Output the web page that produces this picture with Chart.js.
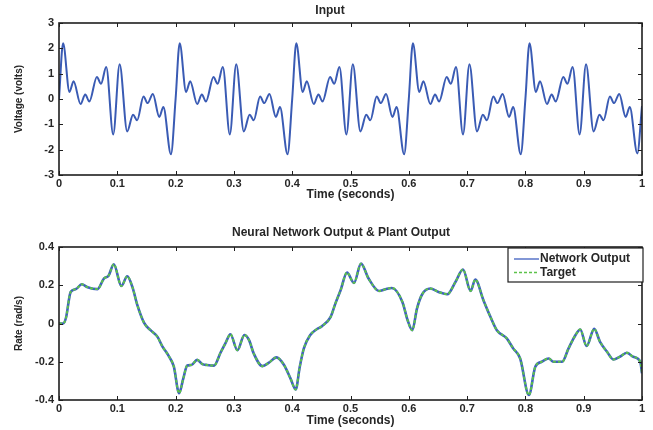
<!DOCTYPE html>
<html>
<head>
<meta charset="utf-8">
<script src="https://cdn.jsdelivr.net/npm/chart.js@4.4.0/dist/chart.umd.min.js"></script>
<style>
body{margin:0;background:#fff;}
#wrap{position:relative;width:653px;height:430px;background:#fff;overflow:hidden;}
#c1{position:absolute;left:0;top:0;}
#c2{position:absolute;left:0;top:215px;}
.ttl{position:absolute;left:0;height:14px;line-height:14px;text-align:center;white-space:nowrap;
     font:bold 12px "Liberation Sans", Arial, sans-serif;color:#262626;}
#t1{top:3px;width:660px;}
#t2{top:225px;width:682px;}
</style>
</head>
<body>
<div id="wrap">
<canvas id="c1" width="653" height="205"></canvas>
<canvas id="c2" width="653" height="215"></canvas>
<div class="ttl" id="t1">Input</div>
<div class="ttl" id="t2">Neural Network Output &amp; Plant Output</div>
</div>
<script>
// input signal
var inputTime = [
 0, 0.007, 0.018, 0.025, 0.037, 0.045, 0.052, 0.065, 0.072, 0.081, 0.093, 0.104, 0.117, 0.127, 0.134, 0.145, 0.152, 0.161, 0.172, 0.179, 0.192,
 0.2, 0.207, 0.218, 0.225, 0.237, 0.245, 0.252, 0.265, 0.272, 0.281, 0.293, 0.304, 0.317, 0.327, 0.334, 0.345, 0.352, 0.361, 0.372, 0.379, 0.392,
 0.4, 0.407, 0.418, 0.425, 0.437, 0.445, 0.452, 0.465, 0.472, 0.481, 0.493, 0.504, 0.517, 0.527, 0.534, 0.545, 0.552, 0.561, 0.572, 0.579, 0.592,
 0.6, 0.607, 0.618, 0.625, 0.637, 0.645, 0.652, 0.665, 0.672, 0.681, 0.693, 0.704, 0.717, 0.727, 0.734, 0.745, 0.752, 0.761, 0.772, 0.779, 0.792,
 0.8, 0.807, 0.818, 0.825, 0.837, 0.845, 0.852, 0.865, 0.872, 0.881, 0.893, 0.904, 0.917, 0.927, 0.934, 0.945, 0.952, 0.961, 0.972, 0.979, 0.992,
 1.0
];
var inputVolts = [
 0, 2.2, 0.28, 0.7, -0.2, 0.18, -0.1, 0.87, 0.6, 1.26, -1.4, 1.37, -1.28, -0.62, -0.84, 0.1, -0.16, 0.2, -0.71, -0.32, -2.18,
 0, 2.2, 0.28, 0.7, -0.2, 0.18, -0.1, 0.87, 0.6, 1.26, -1.4, 1.37, -1.28, -0.62, -0.84, 0.1, -0.16, 0.2, -0.71, -0.32, -2.18,
 0, 2.2, 0.28, 0.7, -0.2, 0.18, -0.1, 0.87, 0.6, 1.26, -1.4, 1.37, -1.28, -0.62, -0.84, 0.1, -0.16, 0.2, -0.71, -0.32, -2.18,
 0, 2.2, 0.28, 0.7, -0.2, 0.18, -0.1, 0.87, 0.6, 1.26, -1.4, 1.37, -1.28, -0.62, -0.84, 0.1, -0.16, 0.2, -0.71, -0.32, -2.18,
 0, 2.2, 0.28, 0.7, -0.2, 0.18, -0.1, 0.87, 0.6, 1.26, -1.4, 1.37, -1.28, -0.62, -0.84, 0.1, -0.16, 0.2, -0.71, -0.32, -2.15,
 -0.28
];

// network output / plant output (bottom plot)
var rateTime = [
 0, 0.007, 0.012, 0.02, 0.029, 0.039, 0.049, 0.066, 0.077, 0.085, 0.094, 0.107, 0.117, 0.126, 0.134, 0.146, 0.157, 0.169, 0.177, 0.189,
 0.197, 0.206, 0.213, 0.22, 0.227, 0.237, 0.246, 0.254, 0.266, 0.277, 0.286, 0.294, 0.306, 0.318, 0.326, 0.334, 0.349, 0.36, 0.373, 0.386,
 0.397, 0.406, 0.413, 0.42, 0.431, 0.442, 0.451, 0.466, 0.474, 0.483, 0.494, 0.506, 0.518, 0.531, 0.549, 0.56, 0.571, 0.589, 0.598, 0.606,
 0.614, 0.623, 0.637, 0.651, 0.666, 0.68, 0.693, 0.706, 0.714, 0.728, 0.74, 0.751, 0.768, 0.779, 0.791, 0.806, 0.817, 0.828, 0.84, 0.848,
 0.863, 0.874, 0.886, 0.894, 0.905, 0.918, 0.928, 0.94, 0.951, 0.962, 0.974, 0.985, 0.997, 1.0
];
var networkRate = [
 0, 0, 0.03, 0.165, 0.18, 0.205, 0.19, 0.18, 0.235, 0.25, 0.31, 0.196, 0.247, 0.19, 0.1, 0.003, -0.035, -0.07, -0.118, -0.174,
 -0.226, -0.365, -0.29, -0.22, -0.217, -0.19, -0.212, -0.217, -0.22, -0.153, -0.1, -0.056, -0.14, -0.06, -0.087, -0.157, -0.223, -0.205, -0.177, -0.217,
 -0.287, -0.345, -0.226, -0.13, -0.06, -0.03, -0.014, 0.035, 0.104, 0.174, 0.266, 0.212, 0.313, 0.235, 0.17, 0.179, 0.186, 0.113, 0.017, -0.035,
 0.078, 0.153, 0.183, 0.165, 0.153, 0.217, 0.282, 0.17, 0.23, 0.122, 0.035, -0.035, -0.078, -0.13, -0.183, -0.374, -0.226, -0.2, -0.183, -0.2,
 -0.2, -0.13, -0.06, -0.031, -0.118, -0.028, -0.096, -0.148, -0.188, -0.174, -0.153, -0.174, -0.2, -0.26
];
var targetRate = [
 0, 0, 0.03, 0.165, 0.18, 0.205, 0.19, 0.18, 0.235, 0.25, 0.31, 0.196, 0.247, 0.19, 0.1, 0.003, -0.035, -0.07, -0.118, -0.174,
 -0.226, -0.365, -0.29, -0.22, -0.217, -0.19, -0.212, -0.217, -0.22, -0.153, -0.1, -0.056, -0.14, -0.06, -0.087, -0.157, -0.223, -0.205, -0.177, -0.217,
 -0.287, -0.345, -0.226, -0.13, -0.06, -0.03, -0.014, 0.035, 0.104, 0.174, 0.266, 0.212, 0.313, 0.235, 0.17, 0.179, 0.186, 0.113, 0.017, -0.035,
 0.078, 0.153, 0.183, 0.165, 0.153, 0.217, 0.282, 0.17, 0.23, 0.122, 0.035, -0.035, -0.078, -0.13, -0.183, -0.374, -0.226, -0.2, -0.183, -0.2,
 -0.2, -0.13, -0.06, -0.031, -0.118, -0.028, -0.096, -0.148, -0.188, -0.174, -0.153, -0.174, -0.2, -0.26
];

var timeTicks = [0, 0.1, 0.2, 0.3, 0.4, 0.5, 0.6, 0.7, 0.8, 0.9, 1];
var voltTicks = [-3, -2, -1, 0, 1, 2, 3];
var rateTicks = [-0.4, -0.2, 0, 0.2, 0.4];

var TXT = '#262626';
var FONT = '"Liberation Sans", Arial, sans-serif';

function pts(xs, ys){
  var out = [];
  for (var i = 0; i < xs.length; i++) out.push({x: xs[i], y: ys[i]});
  return out;
}

function fmt(v){
  var r = Math.round(v * 10) / 10;
  return String(r);
}

// matlab style box + inward ticks on all four sides
var boxPlugin = {
  id: 'matlabBox',
  afterDraw: function(chart){
    var ctx = chart.ctx, a = chart.chartArea;
    var xs = chart.scales.x, ys = chart.scales.y;
    ctx.save();
    ctx.strokeStyle = '#1e1e1e';
    ctx.lineWidth = 1;
    ctx.beginPath();
    xs.ticks.forEach(function(t){
      var px = Math.round(xs.getPixelForValue(t.value)) + 0.5;
      ctx.moveTo(px, a.bottom); ctx.lineTo(px, a.bottom - 4);
      ctx.moveTo(px, a.top); ctx.lineTo(px, a.top + 4);
    });
    ys.ticks.forEach(function(t){
      var py = Math.round(ys.getPixelForValue(t.value)) + 0.5;
      ctx.moveTo(a.left, py); ctx.lineTo(a.left + 4, py);
      ctx.moveTo(a.right, py); ctx.lineTo(a.right - 4, py);
    });
    ctx.stroke();
    ctx.lineWidth = 1.6;
    ctx.strokeRect(a.left, a.top, a.right - a.left, a.bottom - a.top);
    ctx.restore();
  }
};

// boxed legend in the top right corner of the lower plot
var legendBox = {
  id: 'legendBox',
  afterDraw: function(chart){
    if (!chart.options.plugins.legendBox || !chart.options.plugins.legendBox.show) return;
    var ctx = chart.ctx, a = chart.chartArea;
    var w = 135, h = 34;
    var x0 = a.right - w + 1, y0 = a.top + 1;
    ctx.save();
    ctx.fillStyle = '#fff';
    ctx.fillRect(x0, y0, w, h);
    ctx.strokeStyle = '#1e1e1e';
    ctx.lineWidth = 1.2;
    ctx.strokeRect(x0, y0, w, h);
    ctx.font = 'bold 12px ' + FONT;
    ctx.textBaseline = 'middle';
    ctx.fillStyle = TXT;
    chart.data.datasets.forEach(function(ds, i){
      var y = y0 + 11 + i * 13.5;
      ctx.strokeStyle = ds.borderColor;
      ctx.lineWidth = 1.3;
      ctx.setLineDash(ds.borderDash || []);
      ctx.beginPath();
      ctx.moveTo(x0 + 6, y); ctx.lineTo(x0 + 31, y);
      ctx.stroke();
      ctx.setLineDash([]);
      ctx.fillText(ds.label, x0 + 32, y);
    });
    ctx.restore();
  }
};

function xScale(titlePadBottom){
  return {
    type: 'linear', min: 0, max: 1,
    afterBuildTicks: function(s){ s.ticks = timeTicks.map(function(v){ return {value: v}; }); },
    afterFit: function(s){ s.height = 30; },
    ticks: {color: TXT, font: {family: FONT, size: 11, weight: 'bold'}, padding: 2, maxRotation: 0,
            autoSkip: false, callback: function(v){ return fmt(v); }},
    grid: {display: false, drawTicks: false},
    border: {display: false},
    title: {display: true, text: 'Time (seconds)', color: TXT,
            font: {family: FONT, size: 12, weight: 'bold'}, padding: {top: 0, bottom: titlePadBottom}}
  };
}

function yScale(label, min, max, tickList){
  return {
    min: min, max: max,
    afterBuildTicks: function(s){ s.ticks = tickList.map(function(v){ return {value: v}; }); },
    afterFit: function(s){ s.width = 59; },
    ticks: {color: TXT, font: {family: FONT, size: 11, weight: 'bold'}, padding: 5,
            autoSkip: false, callback: function(v){ return fmt(v); }},
    grid: {display: false, drawTicks: false},
    border: {display: false},
    title: {display: true, text: label, color: TXT,
            font: {family: FONT, size: 10, weight: 'bold'}, padding: {top: 13, bottom: 0}}
  };
}

new Chart(document.getElementById('c1'), {
  type: 'line',
  data: {
    datasets: [{
      label: 'Input',
      data: pts(inputTime, inputVolts),
      borderColor: '#3a5bb4',
      borderWidth: 2,
      pointRadius: 0,
      cubicInterpolationMode: 'monotone'
    }]
  },
  options: {
    responsive: false, animation: false,
    layout: {padding: {left: 0, right: 11, top: 23, bottom: 0}},
    plugins: {legend: {display: false}, tooltip: {enabled: false}},
    scales: {x: xScale(3.6), y: yScale('Voltage (volts)', -3, 3, voltTicks)}
  },
  plugins: [boxPlugin]
});

new Chart(document.getElementById('c2'), {
  type: 'line',
  data: {
    datasets: [{
      label: 'Network Output',
      data: pts(rateTime, networkRate),
      borderColor: '#3f5fc0',
      borderWidth: 2.6,
      pointRadius: 0,
      order: 1,
      cubicInterpolationMode: 'monotone'
    }, {
      label: 'Target',
      data: pts(rateTime, targetRate),
      borderColor: '#5cc24a',
      borderWidth: 2,
      borderDash: [3, 2],
      pointRadius: 0,
      order: 0,
      cubicInterpolationMode: 'monotone'
    }]
  },
  options: {
    responsive: false, animation: false,
    layout: {padding: {left: 0, right: 11, top: 32, bottom: 0}},
    plugins: {
      legend: {display: false}, tooltip: {enabled: false},
      legendBox: {show: true}
    },
    scales: {x: xScale(2.6), y: yScale('Rate (rad/s)', -0.4, 0.4, rateTicks)}
  },
  plugins: [boxPlugin, legendBox]
});
</script>
</body>
</html>
